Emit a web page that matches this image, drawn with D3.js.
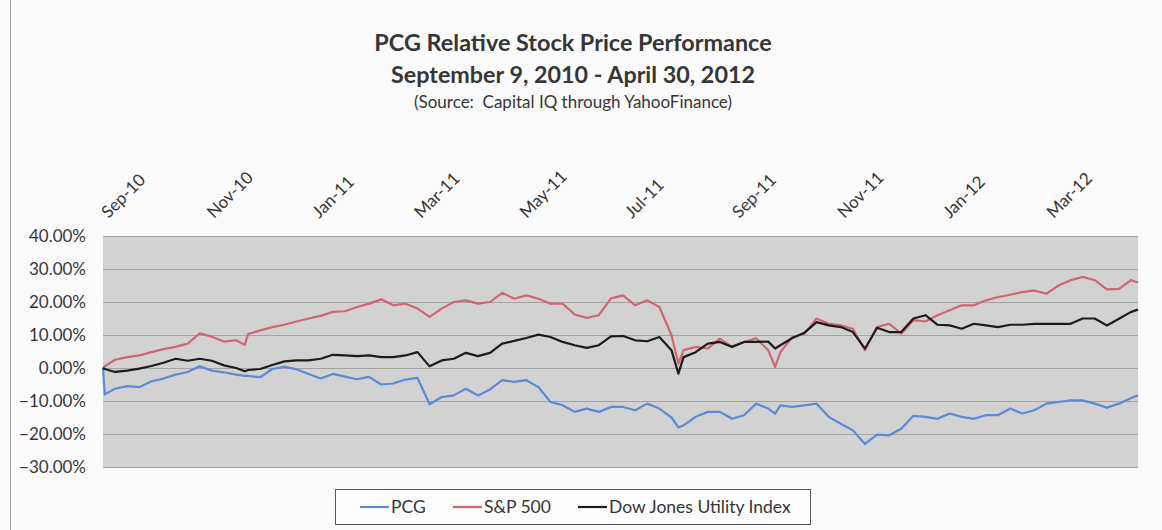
<!DOCTYPE html>
<html>
<head>
<meta charset="utf-8">
<script src="https://cdn.jsdelivr.net/npm/d3@7"></script>
<style>
  body { margin: 0; background: #fbfbfb; }
  text { font-family: Lato, "Noto Sans", sans-serif; fill: #363636; }
</style>
</head>
<body>
<script>
// weekly readings (percent change since Sep 9, 2010), a few extra dates at sharp moves
var dates = ["2010-09-09","2010-09-10","2010-09-16","2010-09-23","2010-09-30","2010-10-07","2010-10-14","2010-10-21","2010-10-28",
  "2010-11-04","2010-11-11","2010-11-18","2010-11-25","2010-11-30","2010-12-02","2010-12-09","2010-12-16","2010-12-23","2010-12-30",
  "2011-01-06","2011-01-13","2011-01-20","2011-01-27","2011-02-03","2011-02-10","2011-02-17","2011-02-24",
  "2011-03-03","2011-03-10","2011-03-17","2011-03-24","2011-03-31","2011-04-07","2011-04-14","2011-04-21","2011-04-28",
  "2011-05-05","2011-05-12","2011-05-19","2011-05-26","2011-06-02","2011-06-09","2011-06-16","2011-06-23","2011-06-30",
  "2011-07-07","2011-07-14","2011-07-21","2011-07-28","2011-08-04","2011-08-08","2011-08-11","2011-08-18","2011-08-25",
  "2011-09-01","2011-09-08","2011-09-15","2011-09-22","2011-09-29","2011-10-03","2011-10-06","2011-10-13","2011-10-20","2011-10-27",
  "2011-11-03","2011-11-10","2011-11-17","2011-11-24","2011-12-01","2011-12-08","2011-12-15","2011-12-22","2011-12-29",
  "2012-01-05","2012-01-12","2012-01-19","2012-01-26","2012-02-02","2012-02-09","2012-02-16","2012-02-23",
  "2012-03-01","2012-03-08","2012-03-15","2012-03-22","2012-03-29","2012-04-05","2012-04-12","2012-04-19","2012-04-26","2012-04-30"];

var pcg = [0, -8.0, -6.3, -5.5, -5.8, -4.0, -3.2, -2.0, -1.2,
  0.5, -0.8, -1.3, -2.0, -2.4, -2.4, -2.8, -0.3, 0.4, -0.4,
  -1.8, -3.2, -1.8, -2.6, -3.4, -2.7, -5.0, -4.7,
  -3.5, -3.0, -11.0, -8.8, -8.3, -6.3, -8.3, -6.5, -3.7,
  -4.2, -3.7, -5.8, -10.3, -11.3, -13.3, -12.3, -13.3, -11.8,
  -11.8, -12.8, -10.8, -12.3, -15.0, -18.0, -17.4, -14.8, -13.3,
  -13.3, -15.4, -14.3, -10.8, -12.3, -13.8, -11.3, -11.8, -11.3, -10.8,
  -14.8, -16.9, -18.9, -23.0, -20.2, -20.4, -18.4, -14.5, -14.8,
  -15.4, -13.8, -14.8, -15.4, -14.3, -14.3, -12.3, -13.8,
  -12.8, -10.8, -10.3, -9.8, -9.8, -10.8, -12.0, -10.8, -9.1, -8.3];

var sp500 = [0, 0.5, 2.5, 3.3, 3.8, 4.8, 5.7, 6.4, 7.4,
  10.5, 9.5, 8.0, 8.4, 7.0, 10.3, 11.4, 12.4, 13.1, 14.1,
  15.0, 15.8, 17.0, 17.2, 18.5, 19.5, 20.8, 19.0,
  19.5, 18.0, 15.5, 18.0, 20.0, 20.5, 19.5, 20.0, 22.8,
  21.0, 22.0, 21.0, 19.5, 19.5, 16.2, 15.2, 16.0, 21.1,
  22.0, 19.0, 20.5, 18.5, 10.0, 1.3, 5.4, 6.4, 5.9,
  8.9, 6.4, 7.9, 9.0, 5.4, 0.3, 4.8, 9.4, 10.4, 15.0,
  13.4, 12.9, 11.9, 5.4, 12.4, 13.4, 10.4, 14.5, 14.1,
  16.0, 17.5, 19.0, 19.0, 20.5, 21.5, 22.2, 23.0,
  23.5, 22.5, 25.0, 26.6, 27.6, 26.6, 23.8, 24.0, 26.6, 25.9];

var djua = [0, -0.3, -1.2, -0.8, -0.2, 0.6, 1.6, 2.8, 2.2,
  2.8, 2.2, 0.8, 0.0, -1.0, -0.6, -0.3, 0.9, 2.0, 2.3,
  2.3, 2.8, 4.0, 3.8, 3.6, 3.8, 3.3, 3.3,
  3.8, 4.8, 0.5, 2.3, 2.8, 4.6, 3.6, 4.6, 7.4,
  8.2, 9.1, 10.1, 9.4, 7.9, 6.9, 6.1, 6.9, 9.6,
  9.7, 8.4, 8.1, 9.4, 5.4, -1.7, 3.3, 4.8, 7.4,
  7.9, 6.4, 7.9, 7.9, 8.0, 5.9, 6.9, 9.1, 10.7, 13.9,
  12.9, 12.4, 10.9, 5.9, 12.2, 10.9, 10.9, 15.0, 16.0,
  13.1, 12.9, 11.9, 13.4, 12.9, 12.4, 13.1, 13.1,
  13.4, 13.4, 13.4, 13.4, 15.0, 15.0, 12.9, 14.9, 17.0, 17.7];

var seriesNames = ["PCG", "S&P 500", "Dow Jones Utility Index"];
var seriesColors = ["#5b8bd5", "#d06672", "#1c1c1c"];

var yTicks = [0.40, 0.30, 0.20, 0.10, 0, -0.10, -0.20, -0.30];
var xTickDates = ["2010-09-09","2010-11-09","2011-01-09","2011-03-09","2011-05-09",
  "2011-07-09","2011-09-09","2011-11-09","2012-01-09","2012-03-09"];
var xTickLabels = ["Sep-10","Nov-10","Jan-11","Mar-11","May-11","Jul-11","Sep-11","Nov-11","Jan-12","Mar-12"];

var svgWidth = 1162;
var svgHeight = 530;

var margin = {
  top: 236,
  right: 24,
  bottom: 63,
  left: 103
};

var plotWidth = svgWidth - margin.left - margin.right;
var plotHeight = svgHeight - margin.top - margin.bottom;

var parseDate = d3.timeParse("%Y-%m-%d");

var svg = d3.select("body")
  .append("svg")
  .attr("width", svgWidth)
  .attr("height", svgHeight);

// faint left edge of the chart frame
svg.append("line")
  .attr("x1", 10.5).attr("x2", 10.5)
  .attr("y1", 0).attr("y2", svgHeight)
  .attr("stroke", "#a8a8a8")
  .attr("stroke-width", 1);

// Titles
svg.append("text")
  .attr("x", 573).attr("y", 51)
  .attr("text-anchor", "middle")
  .style("font-size", "23.4px")
  .style("font-weight", "bold")
  .text("PCG Relative Stock Price Performance");

svg.append("text")
  .attr("x", 573).attr("y", 83)
  .attr("text-anchor", "middle")
  .style("font-size", "23.3px")
  .style("font-weight", "bold")
  .text("September 9, 2010 - April 30, 2012");

svg.append("text")
  .attr("x", 573).attr("y", 108)
  .attr("text-anchor", "middle")
  .style("font-size", "17px")
  .style("white-space", "pre")
  .text("(Source:  Capital IQ through YahooFinance)");

var chart = svg.append("g")
  .attr("transform", `translate(${margin.left}, ${margin.top})`);

// Scales
var xScale = d3.scaleTime()
  .domain([parseDate(dates[0]), parseDate(dates[dates.length - 1])])
  .range([0, plotWidth]);

var yScale = d3.scaleLinear()
  .domain([-0.30, 0.40])
  .range([plotHeight, 0]);

// Plot background
chart.append("rect")
  .attr("width", plotWidth)
  .attr("height", plotHeight)
  .attr("fill", "#d2d2d3");

// Gridlines
chart.append("g")
  .attr("class", "grid")
  .call(d3.axisLeft(yScale).tickValues(yTicks).tickSize(-plotWidth).tickFormat(""))
  .call(g => g.select(".domain").remove())
  .call(g => g.selectAll("line").attr("stroke", "#a3a3a3").attr("stroke-width", 1.2));

// Y axis labels
chart.append("g")
  .call(d3.axisLeft(yScale).tickValues(yTicks).tickSize(0).tickPadding(17).tickFormat(d3.format(".2%")))
  .call(g => g.select(".domain").remove())
  .call(g => g.selectAll("text")
    .style("font-size", "17px")
    .style("font-family", "Lato, 'Noto Sans', sans-serif")
    .attr("fill", "#363636"));

// X axis on top, labels tilted
chart.append("g")
  .call(d3.axisTop(xScale)
    .tickValues(xTickDates.map(parseDate))
    .tickSize(0)
    .tickFormat((d, i) => xTickLabels[i]))
  .call(g => g.select(".domain").remove())
  .call(g => g.selectAll("text")
    .attr("x", 0).attr("y", 0).attr("dy", 0)
    .attr("text-anchor", "start")
    .attr("transform", "translate(5,-17) rotate(-45)")
    .style("font-size", "17px")
    .style("font-family", "Lato, 'Noto Sans', sans-serif")
    .attr("fill", "#363636"));

// Build series
var allValues = [pcg, sp500, djua];
var seriesData = allValues.map(function(vals, s) {
  return {
    name: seriesNames[s],
    color: seriesColors[s],
    points: vals.map(function(v, i) {
      return { date: parseDate(dates[i]), value: v / 100 };
    })
  };
});

var line = d3.line()
  .x(d => xScale(d.date))
  .y(d => yScale(d.value));

chart.selectAll(".series")
  .data(seriesData)
  .enter()
  .append("path")
  .attr("class", "series")
  .attr("d", d => line(d.points))
  .attr("fill", "none")
  .attr("stroke", d => d.color)
  .attr("stroke-width", 2.2)
  .attr("stroke-linejoin", "round");

// Legend
var legend = svg.append("g");

legend.append("rect")
  .attr("x", 335.5).attr("y", 489.5)
  .attr("width", 475).attr("height", 35)
  .attr("fill", "#fdfdfd")
  .attr("stroke", "#555")
  .attr("stroke-width", 1);

var legendX = [360, 453, 578];

var legendItem = legend.selectAll(".legend-item")
  .data(seriesData)
  .enter()
  .append("g")
  .attr("class", "legend-item")
  .attr("transform", (d, i) => `translate(${legendX[i]}, 507)`);

legendItem.append("line")
  .attr("x1", 0).attr("x2", 29)
  .attr("y1", 0).attr("y2", 0)
  .attr("stroke", d => d.color)
  .attr("stroke-width", 2.2);

legendItem.append("text")
  .attr("x", 31)
  .attr("y", 6)
  .style("font-size", "17.5px")
  .text(d => d.name);
</script>
</body>
</html>
